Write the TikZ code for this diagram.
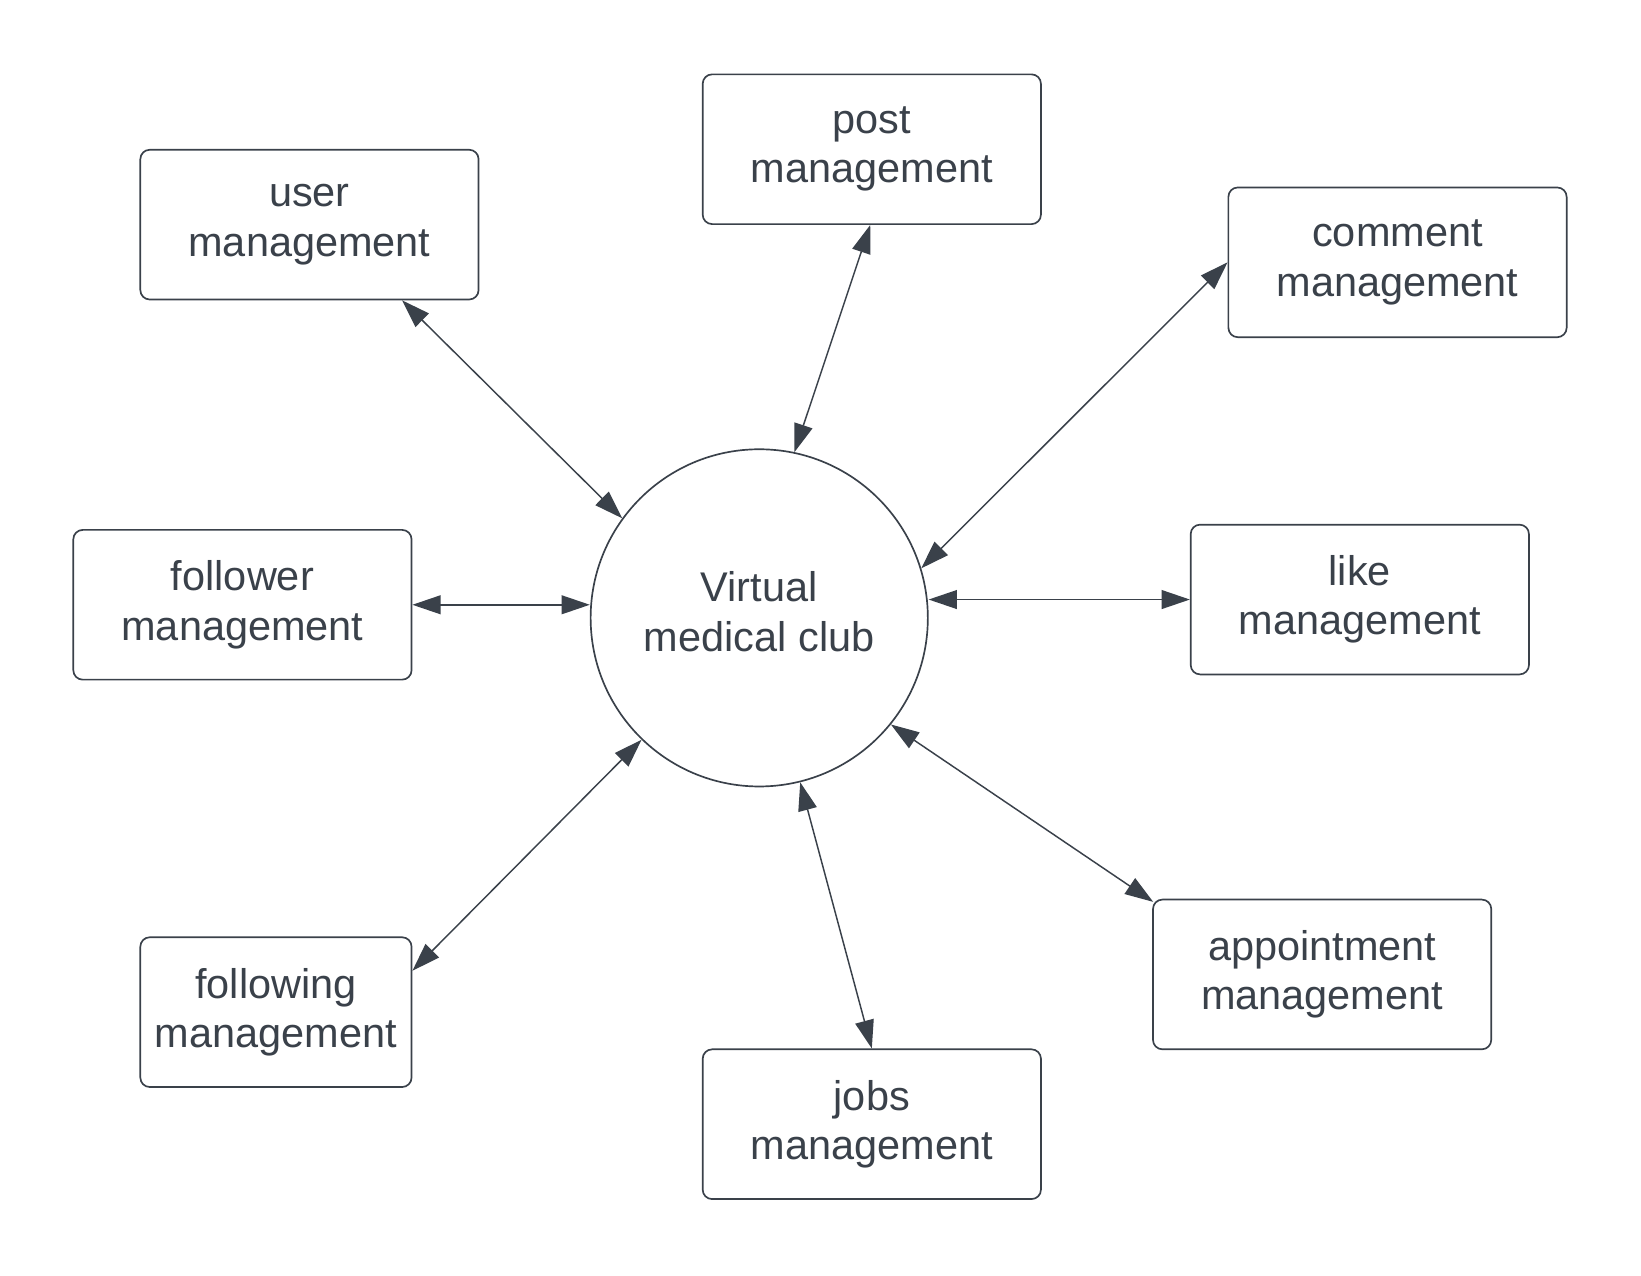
\documentclass[tikz,border=0pt]{standalone}
\usepackage{fontspec}
\setmainfont{Liberation Sans}
\usetikzlibrary{arrows.meta}
\definecolor{ink}{HTML}{3A414A}
\begin{document}
\begin{tikzpicture}[x=1pt,y=-1pt,
  txt/.style={text=ink, align=center, font=\fontsize{39.6}{47}\selectfont, inner sep=0pt},
  box/.style={txt, draw=ink, line width=1.6pt, rounded corners=9pt, minimum width=323pt, minimum height=143pt},
  hub/.style={draw=ink, line width=1.6pt, circle, minimum size=322pt, inner sep=0pt},
  link/.style={draw=ink, line width=1.4pt, {Triangle[length=27pt,width=18pt]}-{Triangle[length=27pt,width=18pt]}}]
\useasboundingbox (0,0) rectangle (1567,1218);
\fill[white] (0,0) rectangle (1567,1218);
\node[hub] (c) at (725,590) {};
\node[txt] (ct) at ([yshift=6pt]c.center) {Virtual\\medical club};
\node[box] (user) at (295.5,214.5) {user\\management};
\node[box] (post) at (832.5,142.5) {post\\management};
\node[box] (comment) at (1334.5,250.5) {comment\\management};
\node[box] (follower) at (231.5,577.5) {follower\\management};
\node[box] (like) at (1298.5,572.5) {like\\management};
\node[box, minimum width=259pt] (following) at (263.5,966.5) {following\\management};
\node[box] (appointment) at (1262.5,930.5) {appointment\\management};
\node[box] (jobs) at (832.5,1073.5) {jobs\\management};
\draw[link] ([xshift=88.5pt]user.south) -- (c.144.5);
\draw[link] ([xshift=-1.5pt]post.south) -- (c.78.3);
\draw[link] (comment.west) -- (c.17.4);
\draw[link] (follower.east) -- (follower.east -| c.west);
\draw[link] (like.west -| c.east) -- (like.west);
\draw[link] ([yshift=39.5pt]following.east) -- (c.226.7);
\draw[link] (c.321.4) -- ([xshift=1pt,yshift=-3pt]appointment.north west);
\draw[link] (c.284.5) -- (jobs.north);
\end{tikzpicture}
\end{document}
